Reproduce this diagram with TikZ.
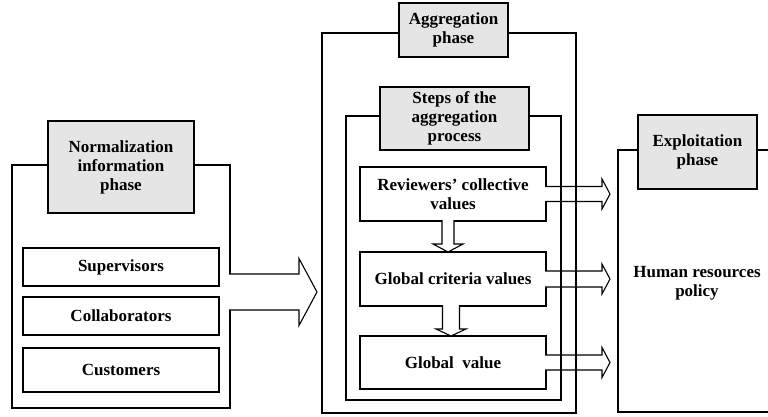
\documentclass[tikz,border=0pt]{standalone}
\usepackage{fontspec}
\setmainfont{Liberation Serif}
\usetikzlibrary{calc}
\newcommand\lbl{\fontsize{17}{19}\selectfont\bfseries}
\tikzset{
  frame/.style={draw, line width=1.6pt, inner sep=0pt, outer sep=0pt},
  item/.style={draw, line width=1.6pt, fill=white, inner sep=0pt, outer sep=0pt,
    align=center, font=\lbl},
  header/.style={draw, line width=1.6pt, fill=gray!20, inner sep=0pt, outer sep=0pt,
    align=center, font=\lbl},
  plain/.style={align=center, font=\lbl, inner sep=0pt},
  % block arrow pointing right, open at its tail: shaft half width, head half width, head length
  rarrow/.style n args={3}{line width=1.1pt, fill=white,
    to path={let \p1=(\tikztostart), \p2=(\tikztotarget) in
      (\x1-0.9pt,\y1+#1) -- (\x2-#3,\y1+#1) -- (\x2-#3,\y1+#2) -- (\x2,\y1)
      -- (\x2-#3,\y1-#2) -- (\x2-#3,\y1-#1) -- (\x1-0.9pt,\y1-#1)}},
  % block arrow pointing down, open at its tail
  darrow/.style n args={3}{line width=1.1pt, fill=white,
    to path={let \p1=(\tikztostart), \p2=(\tikztotarget) in
      (\x1-#1,\y1+0.9pt) -- (\x1-#1,\y2+#3) -- (\x1-#2,\y2+#3) -- (\x1,\y2)
      -- (\x1+#2,\y2+#3) -- (\x1+#1,\y2+#3) -- (\x1+#1,\y1+0.9pt)}},
}
\begin{document}
\begin{tikzpicture}[x=1pt,y=-1pt]
\useasboundingbox (0,0) rectangle (768,416);
\clip (0,0) rectangle (768,416);

% normalization phase
\node[frame, minimum width=218pt, minimum height=243pt] (normbox) at (121,286.5) {};
\node[item, minimum width=196pt, minimum height=38pt] (sup) at (121,267) {Supervisors};
\node[item, minimum width=196pt, minimum height=38pt] (col) at (121,316) {Collaborators};
\node[item, minimum width=196pt, minimum height=44pt] (cus) at (121,370) {Customers};

% flow into the aggregation phase
\coordinate (bigtip) at (317,292);
\draw[rarrow={18}{33.5}{18}] (normbox.east |- bigtip) to (bigtip);

% steps of the aggregation process
\node[item, minimum width=186pt, minimum height=54pt] (rev) at (453,194)
  {Reviewers’ collective\\values};
\node[item, minimum width=186pt, minimum height=54pt] (crit) at (453,279)
  {Global criteria values};
\node[item, minimum width=186pt, minimum height=53pt] (gval) at (453,362.5)
  {Global\ \ value};

\draw[darrow={6}{15}{8}] ($(rev.south)+(-5,0)$) to ($(crit.north)+(-5,0)$);
\draw[darrow={8.5}{15}{7}] ($(crit.south)+(-2,0)$) to ($(gval.north)+(-2,0)$);

% outputs towards the exploitation phase
\coordinate (rtip) at (610,0);
\draw[rarrow={7.5}{15}{8}] (rev.east) to (rev.east -| rtip);
\draw[rarrow={8}{15}{8}] (crit.east) to (crit.east -| rtip);
\draw[rarrow={7.5}{15}{8}] (gval.east) to (gval.east -| rtip);

% enclosing frames of the aggregation phase
\node[frame, minimum width=215pt, minimum height=284pt] (steps) at (453.5,258) {};
\node[frame, minimum width=254pt, minimum height=380pt] (agg) at (449,223) {};

% exploitation phase
\node[frame, minimum width=182pt, minimum height=262pt] (expl) at (709,281) {};
\node[plain] (hr) at (697,283) {Human resources\\policy};

% phase headers
\node[header, minimum width=146pt, minimum height=92pt] (normhead) at (121,167)
  {Normalization\\information\\phase};
\node[header, minimum width=109pt, minimum height=54pt] (agghead) at (453.5,30)
  {Aggregation\\phase};
\node[header, minimum width=149pt, minimum height=63pt] (stepshead) at (454.5,118.5)
  {Steps of the\\aggregation\\process};
\node[header, minimum width=119pt, minimum height=74pt] (explhead) at (697.5,152)
  {Exploitation\\phase};
\end{tikzpicture}
\end{document}
